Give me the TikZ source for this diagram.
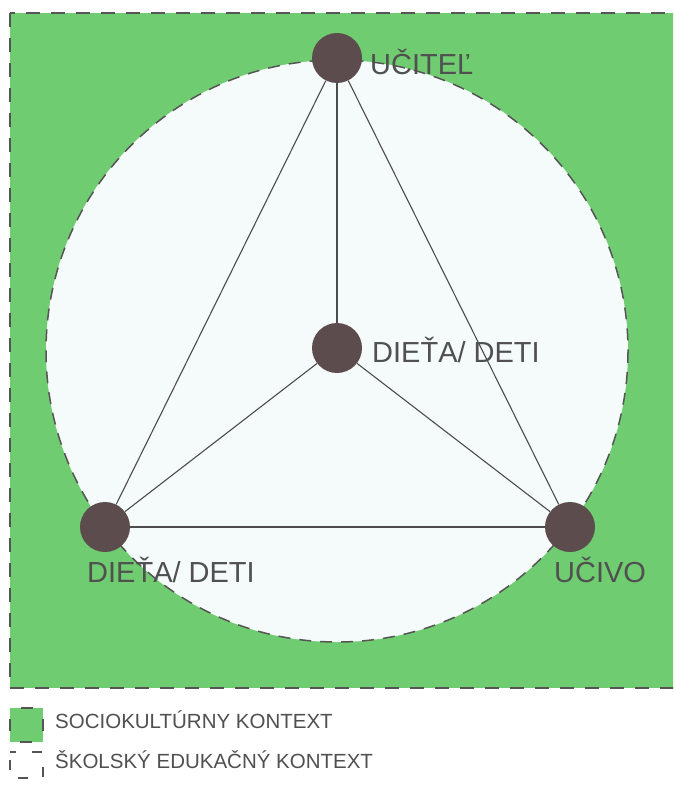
\documentclass[tikz,border=0pt]{standalone}
\usepackage{fontspec}
\setmainfont{Liberation Sans}
\definecolor{ctxgreen}{RGB}{112,204,112}
\definecolor{schoolfill}{RGB}{245,250,251}
\definecolor{nodefill}{RGB}{92,76,78}
\definecolor{txtgray}{RGB}{80,80,80}
\definecolor{dashgray}{RGB}{85,85,85}
\tikzset{
  actor/.style={circle,fill=nodefill,minimum size=50pt,inner sep=0pt},
  lbl/.style={anchor=base west,inner sep=0pt,text=txtgray,font=\fontsize{29}{32}\selectfont},
  leg/.style={anchor=base west,inner sep=0pt,text=txtgray,font=\fontsize{20.5}{24}\selectfont},
  link/.style={draw=dashgray!90!black,line width=1.1pt},
  ctxborder/.style={draw=dashgray,line width=1.8pt,dash pattern=on 14pt off 11pt},
  circborder/.style={draw=dashgray,line width=1.5pt,dash pattern=on 12pt off 9pt}
}
\begin{document}
\begin{tikzpicture}[x=1pt,y=-1pt]
\useasboundingbox (0,0) rectangle (673,786);
\clip (0,0) rectangle (673,786);
\fill[white] (0,0) rectangle (673,786);
% sociocultural context
\path[fill=ctxgreen,ctxborder] (10,13) rectangle (700,688);
% school context circle
\path[fill=schoolfill,circborder] (337,351) circle (291);
% nodes
\node[actor] (t) at (337,58) {};
\node[actor] (c) at (337,348) {};
\node[actor] (l) at (105,527) {};
\node[actor] (r) at (570,527) {};
% links
\draw[link] (t) -- (l);
\draw[link] (t) -- (r);
\draw[link] (t) -- (c);
\draw[link] (c) -- (l);
\draw[link] (c) -- (r);
\draw[link] (l) -- (r);
% labels
\node[lbl] (tl) at (370,75) {UČITEĽ};
\node[lbl] (cl) at (372,362) {DIEŤA/ DETI};
\node[lbl] (ll) at (87,582) {DIEŤA/ DETI};
\node[lbl] (rl) at (554,582) {UČIVO};
% legend
\path[fill=ctxgreen,draw=dashgray,line width=1.6pt,dash pattern=on 12pt off 21.5pt,dash phase=22.75pt] (10,708) rectangle (43,742);
\path[fill=white,draw=dashgray,line width=1.2pt,dash pattern=on 10pt off 16pt,dash phase=18pt] (10,752) rectangle (43,778);
\node[leg] (lg1) at (55,728) {SOCIOKULTÚRNY KONTEXT};
\node[leg] (lg2) at (55,768) {ŠKOLSKÝ EDUKAČNÝ KONTEXT};
\end{tikzpicture}
\end{document}
